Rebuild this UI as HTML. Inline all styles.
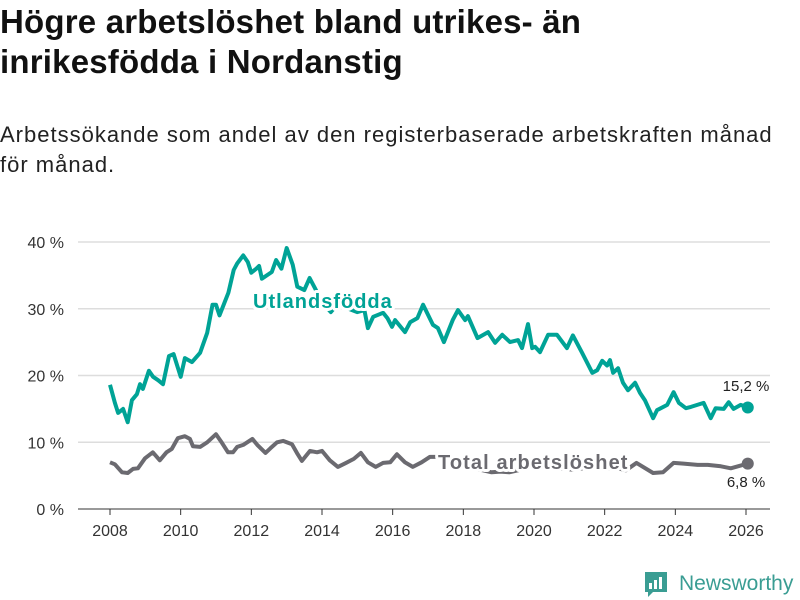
<!DOCTYPE html>
<html><head><meta charset="utf-8">
<style>
body{margin:0;width:800px;height:600px;background:#fff;overflow:hidden;font-family:"Liberation Sans","DejaVu Sans",sans-serif;color:#111;}
h1{position:absolute;left:0;top:2px;margin:0;font-size:33px;line-height:40px;font-weight:bold;letter-spacing:0.2px;}
.sub{position:absolute;left:0;top:120px;margin:0;font-size:22px;line-height:30px;color:#222;letter-spacing:1px;}
svg{position:absolute;left:0;top:0;}
</style></head><body>
<h1>Högre arbetslöshet bland utrikes- än<br>inrikesfödda i Nordanstig</h1>
<p class="sub">Arbetssökande som andel av den registerbaserade arbetskraften månad<br>för månad.</p>
<svg id="chart" width="800" height="600"></svg>
<script>
const xTicks=[2008,2010,2012,2014,2016,2018,2020,2022,2024,2026];
const yTicks=[0,10,20,30,40];
const utlYears=[2008.0,2008.14,2008.23,2008.37,2008.5,2008.62,2008.76,2008.85,2008.93,2009.1,2009.22,2009.36,2009.5,2009.67,2009.8,2010.0,2010.12,2010.32,2010.55,2010.75,2010.9,2011.0,2011.1,2011.35,2011.5,2011.6,2011.77,2011.9,2012.0,2012.14,2012.22,2012.3,2012.58,2012.7,2012.85,2013.0,2013.17,2013.3,2013.5,2013.65,2013.8,2014.0,2014.25,2014.5,2014.75,2015.0,2015.2,2015.3,2015.45,2015.73,2015.85,2015.98,2016.07,2016.35,2016.5,2016.7,2016.86,2017.14,2017.28,2017.45,2017.7,2017.85,2018.05,2018.13,2018.4,2018.7,2018.9,2019.1,2019.32,2019.55,2019.66,2019.83,2019.95,2020.03,2020.17,2020.4,2020.65,2020.93,2021.1,2021.36,2021.65,2021.79,2021.93,2022.07,2022.15,2022.24,2022.38,2022.52,2022.66,2022.86,2023.0,2023.14,2023.37,2023.48,2023.77,2023.95,2024.1,2024.3,2024.44,2024.8,2025.0,2025.14,2025.37,2025.51,2025.65,2025.85,2026.05];
const utlValues=[18.6,15.9,14.4,15,13,16.3,17.2,18.7,18,20.7,19.8,19.3,18.7,22.9,23.2,19.8,22.6,22,23.4,26.4,30.6,30.6,29,32.4,35.8,36.8,38,37,35.4,36,36.4,34.5,35.5,37.3,36,39.1,36.6,33.3,32.8,34.6,33.1,31,29.5,31,30,29.5,29.8,27.1,28.8,29.4,28.6,27.3,28.3,26.5,28,28.6,30.6,27.6,27.1,25,28.3,29.8,28.3,28.9,25.6,26.5,24.9,26.1,25,25.3,24.1,27.7,24.1,24.3,23.5,26.1,26.1,24.1,26,23.4,20.4,20.8,22.2,21.5,22.3,20.4,21.1,18.9,17.8,18.9,17.4,16.3,13.6,14.8,15.6,17.5,15.9,15.1,15.3,15.9,13.6,15.1,15,16,15,15.6,15.2];
const totYears=[2008.0,2008.14,2008.34,2008.5,2008.65,2008.79,2008.99,2009.21,2009.41,2009.6,2009.75,2009.92,2010.12,2010.26,2010.35,2010.55,2010.75,2011.0,2011.17,2011.34,2011.48,2011.6,2011.77,2012.03,2012.17,2012.4,2012.54,2012.73,2012.9,2013.15,2013.29,2013.43,2013.66,2013.86,2014.0,2014.22,2014.45,2014.68,2014.9,2015.1,2015.3,2015.52,2015.73,2015.93,2016.12,2016.35,2016.57,2016.82,2017.05,2017.3,2017.55,2017.8,2018.05,2018.3,2018.55,2018.8,2019.05,2019.3,2019.55,2019.8,2020.05,2020.3,2020.55,2020.8,2021.1,2021.4,2021.7,2022.0,2022.3,2022.6,2022.9,2023.37,2023.65,2023.95,2024.23,2024.63,2024.92,2025.29,2025.57,2026.05];
const totValues=[7,6.7,5.5,5.4,6,6.1,7.6,8.5,7.3,8.5,9,10.6,10.9,10.5,9.4,9.3,10,11.2,9.9,8.5,8.5,9.3,9.6,10.5,9.6,8.4,9.1,10,10.2,9.7,8.4,7.2,8.7,8.5,8.7,7.3,6.3,6.9,7.5,8.4,7,6.3,6.9,7,8.2,7,6.3,7,7.8,7.8,7.3,6.8,6.3,6,5.8,5.5,5.6,5.5,5.8,6.5,6.8,6.4,6.2,6,5.9,6.1,6.3,6,6.2,5.8,6.9,5.4,5.5,6.9,6.8,6.6,6.6,6.4,6.1,6.8];

const NS="http://www.w3.org/2000/svg";
const svg=document.getElementById('chart');
const X0=110,X1=746,Y0=509,Y1=242;
function xs(v){return X0+(v-2008)/(2026-2008)*(X1-X0);}
function ys(v){return Y0-(v/40)*(Y0-Y1);}
function mk(tag,attrs,parent){const e=document.createElementNS(NS,tag);for(const k in attrs)e.setAttribute(k,attrs[k]);(parent||svg).appendChild(e);return e;}

yTicks.forEach(t=>{
  const g=mk('line',{x1:78,x2:770,y1:ys(t),y2:ys(t),stroke:t===0?'#333':'#ddd','stroke-width':t===0?1:1.5});
  
  
  const l=mk('text',{x:64,y:ys(t)+6,'text-anchor':'end','font-size':16,fill:'#333'});
  l.textContent=t+' %';
  
  
});
xTicks.forEach(t=>{
  const tk=mk('line',{x1:xs(t),x2:xs(t),y1:Y0,y2:Y0+6,stroke:'#333','stroke-width':1});
  
  
  const l=mk('text',{x:xs(t),y:536,'text-anchor':'middle','font-size':16,fill:'#333'});
  l.textContent=t;
  
  
});
function path(years,vals){return years.map((y,i)=>(i?'L':'M')+xs(y).toFixed(1)+','+ys(vals[i]).toFixed(1)).join('');}
const tl=mk('path',{d:path(totYears,totValues),fill:'none',stroke:'#6b6a70','stroke-width':4,'stroke-linejoin':'round'});


const ul=mk('path',{d:path(utlYears,utlValues),fill:'none',stroke:'#00a396','stroke-width':4,'stroke-linejoin':'round'});


const ud=mk('circle',{cx:xs(utlYears[utlYears.length-1]),cy:ys(utlValues[utlValues.length-1]),r:6,fill:'#00a396'});


const td=mk('circle',{cx:xs(totYears[totYears.length-1]),cy:ys(totValues[totValues.length-1]),r:6,fill:'#6b6a70'});


const uv=mk('text',{x:746,y:391,'text-anchor':'middle','font-size':15,fill:'#222'});
uv.textContent='15,2 %';


const tv=mk('text',{x:746,y:487,'text-anchor':'middle','font-size':15,fill:'#222'});
tv.textContent='6,8 %';


const ulab=mk('text',{x:253,y:308,'font-size':20,'font-weight':'bold','letter-spacing':1,fill:'#00a396',stroke:'#fff','stroke-width':6,'paint-order':'stroke','stroke-linejoin':'round'});
ulab.textContent='Utlandsfödda';


const tlab=mk('text',{x:438,y:469,'font-size':20,'font-weight':'bold','letter-spacing':1.1,fill:'#6b6a70',stroke:'#fff','stroke-width':6,'paint-order':'stroke','stroke-linejoin':'round'});
tlab.textContent='Total arbetslöshet';


// logo
const lg=mk('g',{});


mk('path',{d:'M645,572 h22 v20 h-14 l-5,5 v-5 h-3 z',fill:'#3a9d93'},lg);
mk('rect',{x:649,y:583,width:3,height:6,fill:'#fff'},lg);
mk('rect',{x:654,y:580,width:3,height:9,fill:'#fff'},lg);
mk('rect',{x:659,y:577,width:3,height:12,fill:'#fff'},lg);
const lt=mk('text',{x:679,y:590,'font-size':21,fill:'#3a9d93'},lg);
lt.textContent='Newsworthy';
</script>
</body></html>
